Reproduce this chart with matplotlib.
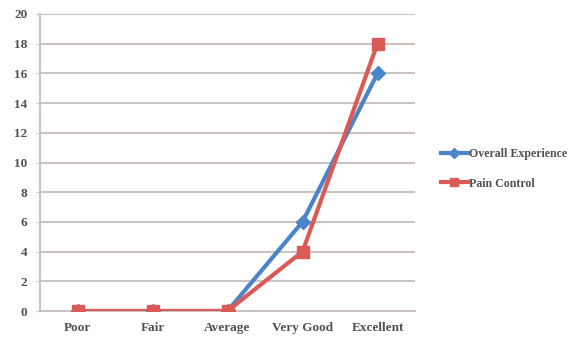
import matplotlib.pyplot as plt
from matplotlib.lines import Line2D

# Data
categories = ['Poor', 'Fair', 'Average', 'Very Good', 'Excellent']
overall = [0, 0, 0, 6, 16]
pain = [0, 0, 0, 4, 18]

blue = '#4a84c9'
red = '#dc5a55'
grid_c = '#cbc3c2'
text_c = '#555050'

plt.rcParams['font.family'] = ['Liberation Serif', 'DejaVu Serif']

fig = plt.figure(figsize=(5.83, 3.37), dpi=100)
ax = fig.add_axes([40/583, 26/337, 375/583, 297/337])

x = list(range(len(categories)))
ax.plot(x, overall, color=blue, lw=3, marker='D', ms=7, mfc=blue, mec=blue, zorder=3)
ax.plot(x, pain, color=red, lw=3, marker='s', ms=9, mfc=red, mec=red, zorder=4)

ax.set_xlim(-0.5, len(categories) - 0.5)
ax.set_ylim(0, 20)
ax.set_yticks(range(0, 21, 2))
ax.set_xticks(x)
ax.set_xticklabels(categories)
ax.grid(axis='y', color=grid_c, lw=1.5)
ax.set_axisbelow(True)

for s in ['top', 'right']:
    ax.spines[s].set_visible(False)
for s in ['left', 'bottom']:
    ax.spines[s].set_color(grid_c)
    ax.spines[s].set_linewidth(1.5)

ax.tick_params(axis='both', colors=grid_c, labelcolor=text_c, labelsize=9.5, length=3)
ax.tick_params(axis='x', length=0, pad=8)
ax.tick_params(axis='y', pad=6)
for lab in ax.get_xticklabels() + ax.get_yticklabels():
    lab.set_fontweight('bold')

handles = [
    Line2D([], [], color=blue, lw=3, marker='D', ms=5),
    Line2D([], [], color=red, lw=3, marker='s', ms=6),
]
fig.legend(handles, ['Overall Experience', 'Pain Control'],
           loc='center left', bbox_to_anchor=(430/583, 1 - 169/337),
           frameon=False, handlelength=2.3, handletextpad=0.05,
           labelspacing=1.45, prop={'size': 8.6, 'weight': 'bold'},
           labelcolor=text_c)

fig.savefig('out.png', dpi=100)
